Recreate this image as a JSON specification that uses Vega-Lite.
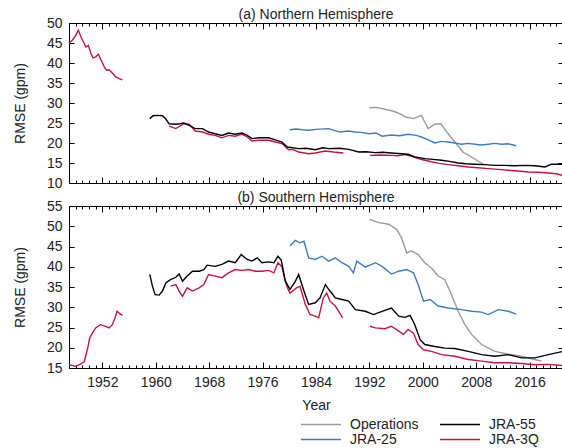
{
  "$schema": "https://vega.github.io/schema/vega-lite/v6.json",
  "padding": {"left": 12, "top": 7, "right": 0, "bottom": 0},
  "spacing": -1,
  "config": {
    "font": "Liberation Sans",
    "view": {"stroke": "#000", "strokeWidth": 1},
    "axis": {"domain": false, "grid": false, "labelFont": "Liberation Sans", "labelFontSize": 14, "labelColor": "#222", "titleFont": "Liberation Sans", "titleFontSize": 14, "titleFontWeight": "normal", "titleColor": "#222", "tickColor": "#000", "tickWidth": 1},
    "title": {"font": "Liberation Sans", "fontSize": 14, "fontWeight": "normal", "color": "#222", "offset": -6},
    "concat": {"spacing": -1}
  },
  "datasets": {
    "nh": [
      {"series": "Operations", "seg": "o", "year": 1992.0, "rmse": 28.8},
      {"series": "Operations", "seg": "o", "year": 1993.0, "rmse": 28.9},
      {"series": "Operations", "seg": "o", "year": 1993.9, "rmse": 28.6},
      {"series": "Operations", "seg": "o", "year": 1995.0, "rmse": 28.2},
      {"series": "Operations", "seg": "o", "year": 1995.9, "rmse": 27.75},
      {"series": "Operations", "seg": "o", "year": 1996.7, "rmse": 27.2},
      {"series": "Operations", "seg": "o", "year": 1997.4, "rmse": 26.5},
      {"series": "Operations", "seg": "o", "year": 1998.6, "rmse": 26.1},
      {"series": "Operations", "seg": "o", "year": 1999.8, "rmse": 26.9},
      {"series": "Operations", "seg": "o", "year": 2000.3, "rmse": 25.2},
      {"series": "Operations", "seg": "o", "year": 2000.8, "rmse": 23.6},
      {"series": "Operations", "seg": "o", "year": 2001.8, "rmse": 24.7},
      {"series": "Operations", "seg": "o", "year": 2002.7, "rmse": 24.8},
      {"series": "Operations", "seg": "o", "year": 2003.8, "rmse": 22.3},
      {"series": "Operations", "seg": "o", "year": 2004.8, "rmse": 20.25},
      {"series": "Operations", "seg": "o", "year": 2006.0, "rmse": 17.75},
      {"series": "Operations", "seg": "o", "year": 2007.3, "rmse": 16.5},
      {"series": "Operations", "seg": "o", "year": 2008.5, "rmse": 15.25},
      {"series": "Operations", "seg": "o", "year": 2009.0, "rmse": 14.8},

      {"series": "JRA-25", "seg": "b", "year": 1980.1, "rmse": 23.3},
      {"series": "JRA-25", "seg": "b", "year": 1981.0, "rmse": 23.5},
      {"series": "JRA-25", "seg": "b", "year": 1982.0, "rmse": 23.3},
      {"series": "JRA-25", "seg": "b", "year": 1982.9, "rmse": 23.2},
      {"series": "JRA-25", "seg": "b", "year": 1984.0, "rmse": 23.4},
      {"series": "JRA-25", "seg": "b", "year": 1985.9, "rmse": 23.6},
      {"series": "JRA-25", "seg": "b", "year": 1986.8, "rmse": 23.1},
      {"series": "JRA-25", "seg": "b", "year": 1987.6, "rmse": 22.75},
      {"series": "JRA-25", "seg": "b", "year": 1988.8, "rmse": 23.0},
      {"series": "JRA-25", "seg": "b", "year": 1989.9, "rmse": 22.75},
      {"series": "JRA-25", "seg": "b", "year": 1991.0, "rmse": 22.6},
      {"series": "JRA-25", "seg": "b", "year": 1991.9, "rmse": 22.3},
      {"series": "JRA-25", "seg": "b", "year": 1993.0, "rmse": 22.5},
      {"series": "JRA-25", "seg": "b", "year": 1993.9, "rmse": 21.7},
      {"series": "JRA-25", "seg": "b", "year": 1995.3, "rmse": 22.0},
      {"series": "JRA-25", "seg": "b", "year": 1996.5, "rmse": 21.8},
      {"series": "JRA-25", "seg": "b", "year": 1997.8, "rmse": 22.2},
      {"series": "JRA-25", "seg": "b", "year": 1999.0, "rmse": 21.9},
      {"series": "JRA-25", "seg": "b", "year": 1999.8, "rmse": 21.5},
      {"series": "JRA-25", "seg": "b", "year": 2000.8, "rmse": 20.8},
      {"series": "JRA-25", "seg": "b", "year": 2001.8, "rmse": 20.0},
      {"series": "JRA-25", "seg": "b", "year": 2002.8, "rmse": 20.4},
      {"series": "JRA-25", "seg": "b", "year": 2003.8, "rmse": 20.25},
      {"series": "JRA-25", "seg": "b", "year": 2004.8, "rmse": 20.0},
      {"series": "JRA-25", "seg": "b", "year": 2005.8, "rmse": 19.7},
      {"series": "JRA-25", "seg": "b", "year": 2006.8, "rmse": 19.9},
      {"series": "JRA-25", "seg": "b", "year": 2007.8, "rmse": 19.7},
      {"series": "JRA-25", "seg": "b", "year": 2008.8, "rmse": 19.5},
      {"series": "JRA-25", "seg": "b", "year": 2009.8, "rmse": 19.7},
      {"series": "JRA-25", "seg": "b", "year": 2010.8, "rmse": 19.9},
      {"series": "JRA-25", "seg": "b", "year": 2011.8, "rmse": 19.7},
      {"series": "JRA-25", "seg": "b", "year": 2012.8, "rmse": 19.8},
      {"series": "JRA-25", "seg": "b", "year": 2014.0, "rmse": 19.3},

      {"series": "JRA-3Q", "seg": "a", "year": 1947.0, "rmse": 45.0},
      {"series": "JRA-3Q", "seg": "a", "year": 1947.5, "rmse": 45.7},
      {"series": "JRA-3Q", "seg": "a", "year": 1948.0, "rmse": 46.9},
      {"series": "JRA-3Q", "seg": "a", "year": 1948.4, "rmse": 48.2},
      {"series": "JRA-3Q", "seg": "a", "year": 1948.8, "rmse": 46.5},
      {"series": "JRA-3Q", "seg": "a", "year": 1949.3, "rmse": 44.8},
      {"series": "JRA-3Q", "seg": "a", "year": 1949.5, "rmse": 44.0},
      {"series": "JRA-3Q", "seg": "a", "year": 1949.9, "rmse": 44.4},
      {"series": "JRA-3Q", "seg": "a", "year": 1950.3, "rmse": 42.3},
      {"series": "JRA-3Q", "seg": "a", "year": 1950.6, "rmse": 41.3},
      {"series": "JRA-3Q", "seg": "a", "year": 1951.0, "rmse": 41.5},
      {"series": "JRA-3Q", "seg": "a", "year": 1951.4, "rmse": 42.2},
      {"series": "JRA-3Q", "seg": "a", "year": 1951.7, "rmse": 41.1},
      {"series": "JRA-3Q", "seg": "a", "year": 1952.3, "rmse": 39.0},
      {"series": "JRA-3Q", "seg": "a", "year": 1952.6, "rmse": 38.2},
      {"series": "JRA-3Q", "seg": "a", "year": 1953.0, "rmse": 38.3},
      {"series": "JRA-3Q", "seg": "a", "year": 1953.5, "rmse": 37.5},
      {"series": "JRA-3Q", "seg": "a", "year": 1954.0, "rmse": 36.5},
      {"series": "JRA-3Q", "seg": "a", "year": 1954.5, "rmse": 36.1},
      {"series": "JRA-3Q", "seg": "a", "year": 1955.0, "rmse": 35.8},

      {"series": "JRA-3Q", "seg": "b", "year": 1962.0, "rmse": 24.2},
      {"series": "JRA-3Q", "seg": "b", "year": 1963.0, "rmse": 23.6},
      {"series": "JRA-3Q", "seg": "b", "year": 1964.2, "rmse": 24.85},
      {"series": "JRA-3Q", "seg": "b", "year": 1965.0, "rmse": 24.7},
      {"series": "JRA-3Q", "seg": "b", "year": 1965.9, "rmse": 23.0},
      {"series": "JRA-3Q", "seg": "b", "year": 1967.0, "rmse": 22.75},
      {"series": "JRA-3Q", "seg": "b", "year": 1967.9, "rmse": 22.2},
      {"series": "JRA-3Q", "seg": "b", "year": 1968.9, "rmse": 21.9},
      {"series": "JRA-3Q", "seg": "b", "year": 1969.9, "rmse": 21.3},
      {"series": "JRA-3Q", "seg": "b", "year": 1970.9, "rmse": 21.9},
      {"series": "JRA-3Q", "seg": "b", "year": 1971.9, "rmse": 21.7},
      {"series": "JRA-3Q", "seg": "b", "year": 1972.9, "rmse": 22.2},
      {"series": "JRA-3Q", "seg": "b", "year": 1973.7, "rmse": 21.5},
      {"series": "JRA-3Q", "seg": "b", "year": 1974.4, "rmse": 20.5},
      {"series": "JRA-3Q", "seg": "b", "year": 1975.4, "rmse": 20.7},
      {"series": "JRA-3Q", "seg": "b", "year": 1976.9, "rmse": 20.7},
      {"series": "JRA-3Q", "seg": "b", "year": 1977.9, "rmse": 20.25},
      {"series": "JRA-3Q", "seg": "b", "year": 1978.9, "rmse": 19.85},
      {"series": "JRA-3Q", "seg": "b", "year": 1979.9, "rmse": 18.3},
      {"series": "JRA-3Q", "seg": "b", "year": 1980.5, "rmse": 18.4},
      {"series": "JRA-3Q", "seg": "b", "year": 1981.4, "rmse": 17.75},
      {"series": "JRA-3Q", "seg": "b", "year": 1982.9, "rmse": 17.3},
      {"series": "JRA-3Q", "seg": "b", "year": 1983.9, "rmse": 17.5},
      {"series": "JRA-3Q", "seg": "b", "year": 1985.4, "rmse": 18.0},
      {"series": "JRA-3Q", "seg": "b", "year": 1986.6, "rmse": 17.75},
      {"series": "JRA-3Q", "seg": "b", "year": 1988.1, "rmse": 17.5},

      {"series": "JRA-3Q", "seg": "c", "year": 1992.1, "rmse": 16.9},
      {"series": "JRA-3Q", "seg": "c", "year": 1993.5, "rmse": 17.0},
      {"series": "JRA-3Q", "seg": "c", "year": 1995.3, "rmse": 16.9},
      {"series": "JRA-3Q", "seg": "c", "year": 1996.3, "rmse": 16.8},
      {"series": "JRA-3Q", "seg": "c", "year": 1997.3, "rmse": 17.1},
      {"series": "JRA-3Q", "seg": "c", "year": 1998.3, "rmse": 16.7},
      {"series": "JRA-3Q", "seg": "c", "year": 1999.3, "rmse": 16.1},
      {"series": "JRA-3Q", "seg": "c", "year": 2000.3, "rmse": 15.7},
      {"series": "JRA-3Q", "seg": "c", "year": 2001.3, "rmse": 15.3},
      {"series": "JRA-3Q", "seg": "c", "year": 2002.5, "rmse": 14.9},
      {"series": "JRA-3Q", "seg": "c", "year": 2003.8, "rmse": 14.6},
      {"series": "JRA-3Q", "seg": "c", "year": 2005.3, "rmse": 14.3},
      {"series": "JRA-3Q", "seg": "c", "year": 2006.8, "rmse": 14.0},
      {"series": "JRA-3Q", "seg": "c", "year": 2008.3, "rmse": 13.8},
      {"series": "JRA-3Q", "seg": "c", "year": 2009.8, "rmse": 13.6},
      {"series": "JRA-3Q", "seg": "c", "year": 2011.3, "rmse": 13.4},
      {"series": "JRA-3Q", "seg": "c", "year": 2012.8, "rmse": 13.2},
      {"series": "JRA-3Q", "seg": "c", "year": 2014.3, "rmse": 13.0},
      {"series": "JRA-3Q", "seg": "c", "year": 2015.8, "rmse": 12.75},
      {"series": "JRA-3Q", "seg": "c", "year": 2017.3, "rmse": 12.7},
      {"series": "JRA-3Q", "seg": "c", "year": 2018.8, "rmse": 12.5},
      {"series": "JRA-3Q", "seg": "c", "year": 2020.0, "rmse": 12.3},
      {"series": "JRA-3Q", "seg": "c", "year": 2021.0, "rmse": 11.9},

      {"series": "JRA-55", "seg": "k", "year": 1959.1, "rmse": 26.1},
      {"series": "JRA-55", "seg": "k", "year": 1959.6, "rmse": 26.8},
      {"series": "JRA-55", "seg": "k", "year": 1960.2, "rmse": 26.9},
      {"series": "JRA-55", "seg": "k", "year": 1961.0, "rmse": 26.8},
      {"series": "JRA-55", "seg": "k", "year": 1961.5, "rmse": 26.0},
      {"series": "JRA-55", "seg": "k", "year": 1962.0, "rmse": 24.8},
      {"series": "JRA-55", "seg": "k", "year": 1963.0, "rmse": 24.7},
      {"series": "JRA-55", "seg": "k", "year": 1963.6, "rmse": 24.8},
      {"series": "JRA-55", "seg": "k", "year": 1964.2, "rmse": 25.0},
      {"series": "JRA-55", "seg": "k", "year": 1965.0, "rmse": 24.4},
      {"series": "JRA-55", "seg": "k", "year": 1965.9, "rmse": 23.6},
      {"series": "JRA-55", "seg": "k", "year": 1967.0, "rmse": 23.6},
      {"series": "JRA-55", "seg": "k", "year": 1967.9, "rmse": 22.75},
      {"series": "JRA-55", "seg": "k", "year": 1968.9, "rmse": 22.3},
      {"series": "JRA-55", "seg": "k", "year": 1969.9, "rmse": 21.9},
      {"series": "JRA-55", "seg": "k", "year": 1970.9, "rmse": 22.5},
      {"series": "JRA-55", "seg": "k", "year": 1971.9, "rmse": 22.2},
      {"series": "JRA-55", "seg": "k", "year": 1972.9, "rmse": 22.5},
      {"series": "JRA-55", "seg": "k", "year": 1973.7, "rmse": 21.9},
      {"series": "JRA-55", "seg": "k", "year": 1974.4, "rmse": 21.1},
      {"series": "JRA-55", "seg": "k", "year": 1975.4, "rmse": 21.3},
      {"series": "JRA-55", "seg": "k", "year": 1976.9, "rmse": 21.3},
      {"series": "JRA-55", "seg": "k", "year": 1977.9, "rmse": 20.8},
      {"series": "JRA-55", "seg": "k", "year": 1978.9, "rmse": 20.2},
      {"series": "JRA-55", "seg": "k", "year": 1979.7, "rmse": 19.0},
      {"series": "JRA-55", "seg": "k", "year": 1981.4, "rmse": 18.6},
      {"series": "JRA-55", "seg": "k", "year": 1982.5, "rmse": 18.7},
      {"series": "JRA-55", "seg": "k", "year": 1983.9, "rmse": 18.3},
      {"series": "JRA-55", "seg": "k", "year": 1985.0, "rmse": 18.8},
      {"series": "JRA-55", "seg": "k", "year": 1985.9, "rmse": 18.6},
      {"series": "JRA-55", "seg": "k", "year": 1987.5, "rmse": 18.7},
      {"series": "JRA-55", "seg": "k", "year": 1988.9, "rmse": 18.4},
      {"series": "JRA-55", "seg": "k", "year": 1990.4, "rmse": 17.75},
      {"series": "JRA-55", "seg": "k", "year": 1991.5, "rmse": 17.8},
      {"series": "JRA-55", "seg": "k", "year": 1992.9, "rmse": 17.6},
      {"series": "JRA-55", "seg": "k", "year": 1994.0, "rmse": 17.7},
      {"series": "JRA-55", "seg": "k", "year": 1995.3, "rmse": 17.5},
      {"series": "JRA-55", "seg": "k", "year": 1996.8, "rmse": 17.3},
      {"series": "JRA-55", "seg": "k", "year": 1997.8, "rmse": 17.2},
      {"series": "JRA-55", "seg": "k", "year": 1998.8, "rmse": 16.5},
      {"series": "JRA-55", "seg": "k", "year": 2000.3, "rmse": 16.1},
      {"series": "JRA-55", "seg": "k", "year": 2001.5, "rmse": 15.9},
      {"series": "JRA-55", "seg": "k", "year": 2002.8, "rmse": 15.7},
      {"series": "JRA-55", "seg": "k", "year": 2004.0, "rmse": 15.4},
      {"series": "JRA-55", "seg": "k", "year": 2005.3, "rmse": 15.0},
      {"series": "JRA-55", "seg": "k", "year": 2006.5, "rmse": 14.8},
      {"series": "JRA-55", "seg": "k", "year": 2007.8, "rmse": 14.7},
      {"series": "JRA-55", "seg": "k", "year": 2009.3, "rmse": 14.6},
      {"series": "JRA-55", "seg": "k", "year": 2010.8, "rmse": 14.4},
      {"series": "JRA-55", "seg": "k", "year": 2012.3, "rmse": 14.4},
      {"series": "JRA-55", "seg": "k", "year": 2013.8, "rmse": 14.3},
      {"series": "JRA-55", "seg": "k", "year": 2015.3, "rmse": 14.4},
      {"series": "JRA-55", "seg": "k", "year": 2016.8, "rmse": 14.3},
      {"series": "JRA-55", "seg": "k", "year": 2018.3, "rmse": 14.0},
      {"series": "JRA-55", "seg": "k", "year": 2019.3, "rmse": 14.7},
      {"series": "JRA-55", "seg": "k", "year": 2021.0, "rmse": 14.7}
    ],
    "sh": [
      {"series": "Operations", "seg": "o", "year": 1992.0, "rmse": 51.7},
      {"series": "Operations", "seg": "o", "year": 1993.4, "rmse": 50.9},
      {"series": "Operations", "seg": "o", "year": 1994.9, "rmse": 50.5},
      {"series": "Operations", "seg": "o", "year": 1996.1, "rmse": 49.2},
      {"series": "Operations", "seg": "o", "year": 1996.8, "rmse": 47.2},
      {"series": "Operations", "seg": "o", "year": 1997.6, "rmse": 43.4},
      {"series": "Operations", "seg": "o", "year": 1998.3, "rmse": 43.9},
      {"series": "Operations", "seg": "o", "year": 1999.3, "rmse": 43.0},
      {"series": "Operations", "seg": "o", "year": 2000.3, "rmse": 41.0},
      {"series": "Operations", "seg": "o", "year": 2001.3, "rmse": 39.7},
      {"series": "Operations", "seg": "o", "year": 2002.3, "rmse": 37.7},
      {"series": "Operations", "seg": "o", "year": 2003.3, "rmse": 36.8},
      {"series": "Operations", "seg": "o", "year": 2004.3, "rmse": 33.1},
      {"series": "Operations", "seg": "o", "year": 2005.3, "rmse": 29.0},
      {"series": "Operations", "seg": "o", "year": 2006.3, "rmse": 25.7},
      {"series": "Operations", "seg": "o", "year": 2007.3, "rmse": 23.3},
      {"series": "Operations", "seg": "o", "year": 2008.8, "rmse": 20.8},
      {"series": "Operations", "seg": "o", "year": 2010.8, "rmse": 19.1},
      {"series": "Operations", "seg": "o", "year": 2012.8, "rmse": 18.4},
      {"series": "Operations", "seg": "o", "year": 2014.8, "rmse": 17.9},
      {"series": "Operations", "seg": "o", "year": 2016.8, "rmse": 17.1},
      {"series": "Operations", "seg": "o", "year": 2017.8, "rmse": 16.7},

      {"series": "JRA-25", "seg": "b", "year": 1980.1, "rmse": 45.1},
      {"series": "JRA-25", "seg": "b", "year": 1980.9, "rmse": 46.5},
      {"series": "JRA-25", "seg": "b", "year": 1981.6, "rmse": 45.9},
      {"series": "JRA-25", "seg": "b", "year": 1982.2, "rmse": 46.3},
      {"series": "JRA-25", "seg": "b", "year": 1982.9, "rmse": 42.2},
      {"series": "JRA-25", "seg": "b", "year": 1983.9, "rmse": 41.8},
      {"series": "JRA-25", "seg": "b", "year": 1984.9, "rmse": 42.6},
      {"series": "JRA-25", "seg": "b", "year": 1985.9, "rmse": 41.4},
      {"series": "JRA-25", "seg": "b", "year": 1986.9, "rmse": 42.2},
      {"series": "JRA-25", "seg": "b", "year": 1987.9, "rmse": 41.0},
      {"series": "JRA-25", "seg": "b", "year": 1988.9, "rmse": 40.1},
      {"series": "JRA-25", "seg": "b", "year": 1989.6, "rmse": 38.5},
      {"series": "JRA-25", "seg": "b", "year": 1990.1, "rmse": 41.4},
      {"series": "JRA-25", "seg": "b", "year": 1991.4, "rmse": 39.9},
      {"series": "JRA-25", "seg": "b", "year": 1992.9, "rmse": 41.0},
      {"series": "JRA-25", "seg": "b", "year": 1993.9, "rmse": 40.1},
      {"series": "JRA-25", "seg": "b", "year": 1995.3, "rmse": 38.2},
      {"series": "JRA-25", "seg": "b", "year": 1996.4, "rmse": 38.9},
      {"series": "JRA-25", "seg": "b", "year": 1997.6, "rmse": 39.3},
      {"series": "JRA-25", "seg": "b", "year": 1998.6, "rmse": 38.5},
      {"series": "JRA-25", "seg": "b", "year": 1999.3, "rmse": 35.6},
      {"series": "JRA-25", "seg": "b", "year": 2000.1, "rmse": 31.5},
      {"series": "JRA-25", "seg": "b", "year": 2001.1, "rmse": 31.9},
      {"series": "JRA-25", "seg": "b", "year": 2002.3, "rmse": 30.3},
      {"series": "JRA-25", "seg": "b", "year": 2003.8, "rmse": 29.8},
      {"series": "JRA-25", "seg": "b", "year": 2005.8, "rmse": 29.4},
      {"series": "JRA-25", "seg": "b", "year": 2007.3, "rmse": 29.0},
      {"series": "JRA-25", "seg": "b", "year": 2008.8, "rmse": 28.8},
      {"series": "JRA-25", "seg": "b", "year": 2009.8, "rmse": 28.2},
      {"series": "JRA-25", "seg": "b", "year": 2011.3, "rmse": 29.4},
      {"series": "JRA-25", "seg": "b", "year": 2012.8, "rmse": 29.0},
      {"series": "JRA-25", "seg": "b", "year": 2014.0, "rmse": 28.3},

      {"series": "JRA-3Q", "seg": "a", "year": 1947.0, "rmse": 15.8},
      {"series": "JRA-3Q", "seg": "a", "year": 1948.0, "rmse": 15.4},
      {"series": "JRA-3Q", "seg": "a", "year": 1948.8, "rmse": 16.0},
      {"series": "JRA-3Q", "seg": "a", "year": 1949.3, "rmse": 16.6},
      {"series": "JRA-3Q", "seg": "a", "year": 1949.8, "rmse": 19.9},
      {"series": "JRA-3Q", "seg": "a", "year": 1950.1, "rmse": 22.4},
      {"series": "JRA-3Q", "seg": "a", "year": 1950.5, "rmse": 23.6},
      {"series": "JRA-3Q", "seg": "a", "year": 1951.0, "rmse": 24.9},
      {"series": "JRA-3Q", "seg": "a", "year": 1951.7, "rmse": 25.7},
      {"series": "JRA-3Q", "seg": "a", "year": 1952.5, "rmse": 25.3},
      {"series": "JRA-3Q", "seg": "a", "year": 1953.0, "rmse": 24.9},
      {"series": "JRA-3Q", "seg": "a", "year": 1953.5, "rmse": 25.7},
      {"series": "JRA-3Q", "seg": "a", "year": 1953.9, "rmse": 27.4},
      {"series": "JRA-3Q", "seg": "a", "year": 1954.2, "rmse": 29.0},
      {"series": "JRA-3Q", "seg": "a", "year": 1954.7, "rmse": 28.3},
      {"series": "JRA-3Q", "seg": "a", "year": 1955.0, "rmse": 28.0},

      {"series": "JRA-3Q", "seg": "b", "year": 1962.2, "rmse": 35.2},
      {"series": "JRA-3Q", "seg": "b", "year": 1963.0, "rmse": 35.6},
      {"series": "JRA-3Q", "seg": "b", "year": 1963.5, "rmse": 34.0},
      {"series": "JRA-3Q", "seg": "b", "year": 1964.0, "rmse": 32.7},
      {"series": "JRA-3Q", "seg": "b", "year": 1964.7, "rmse": 34.8},
      {"series": "JRA-3Q", "seg": "b", "year": 1965.5, "rmse": 34.0},
      {"series": "JRA-3Q", "seg": "b", "year": 1966.5, "rmse": 34.8},
      {"series": "JRA-3Q", "seg": "b", "year": 1967.2, "rmse": 35.6},
      {"series": "JRA-3Q", "seg": "b", "year": 1967.9, "rmse": 38.1},
      {"series": "JRA-3Q", "seg": "b", "year": 1968.9, "rmse": 37.7},
      {"series": "JRA-3Q", "seg": "b", "year": 1969.9, "rmse": 37.3},
      {"series": "JRA-3Q", "seg": "b", "year": 1970.9, "rmse": 38.5},
      {"series": "JRA-3Q", "seg": "b", "year": 1971.9, "rmse": 39.3},
      {"series": "JRA-3Q", "seg": "b", "year": 1972.9, "rmse": 39.1},
      {"series": "JRA-3Q", "seg": "b", "year": 1973.9, "rmse": 39.3},
      {"series": "JRA-3Q", "seg": "b", "year": 1974.9, "rmse": 38.9},
      {"series": "JRA-3Q", "seg": "b", "year": 1975.9, "rmse": 38.9},
      {"series": "JRA-3Q", "seg": "b", "year": 1976.9, "rmse": 39.1},
      {"series": "JRA-3Q", "seg": "b", "year": 1977.7, "rmse": 38.5},
      {"series": "JRA-3Q", "seg": "b", "year": 1978.3, "rmse": 41.0},
      {"series": "JRA-3Q", "seg": "b", "year": 1978.9, "rmse": 40.0},
      {"series": "JRA-3Q", "seg": "b", "year": 1979.4, "rmse": 36.4},
      {"series": "JRA-3Q", "seg": "b", "year": 1979.8, "rmse": 34.5},
      {"series": "JRA-3Q", "seg": "b", "year": 1980.1, "rmse": 33.5},
      {"series": "JRA-3Q", "seg": "b", "year": 1981.1, "rmse": 34.8},
      {"series": "JRA-3Q", "seg": "b", "year": 1981.6, "rmse": 35.2},
      {"series": "JRA-3Q", "seg": "b", "year": 1982.4, "rmse": 30.7},
      {"series": "JRA-3Q", "seg": "b", "year": 1983.1, "rmse": 28.2},
      {"series": "JRA-3Q", "seg": "b", "year": 1983.9, "rmse": 27.8},
      {"series": "JRA-3Q", "seg": "b", "year": 1984.4, "rmse": 27.4},
      {"series": "JRA-3Q", "seg": "b", "year": 1985.1, "rmse": 32.3},
      {"series": "JRA-3Q", "seg": "b", "year": 1985.6, "rmse": 33.5},
      {"series": "JRA-3Q", "seg": "b", "year": 1986.1, "rmse": 31.5},
      {"series": "JRA-3Q", "seg": "b", "year": 1986.9, "rmse": 30.3},
      {"series": "JRA-3Q", "seg": "b", "year": 1987.4, "rmse": 29.0},
      {"series": "JRA-3Q", "seg": "b", "year": 1988.0, "rmse": 27.4},

      {"series": "JRA-3Q", "seg": "c", "year": 1992.1, "rmse": 25.3},
      {"series": "JRA-3Q", "seg": "c", "year": 1992.9, "rmse": 24.9},
      {"series": "JRA-3Q", "seg": "c", "year": 1994.3, "rmse": 24.7},
      {"series": "JRA-3Q", "seg": "c", "year": 1995.3, "rmse": 25.3},
      {"series": "JRA-3Q", "seg": "c", "year": 1996.4, "rmse": 24.1},
      {"series": "JRA-3Q", "seg": "c", "year": 1997.1, "rmse": 23.3},
      {"series": "JRA-3Q", "seg": "c", "year": 1997.8, "rmse": 24.5},
      {"series": "JRA-3Q", "seg": "c", "year": 1998.6, "rmse": 23.6},
      {"series": "JRA-3Q", "seg": "c", "year": 1999.3, "rmse": 20.8},
      {"series": "JRA-3Q", "seg": "c", "year": 2000.1, "rmse": 19.5},
      {"series": "JRA-3Q", "seg": "c", "year": 2001.3, "rmse": 19.1},
      {"series": "JRA-3Q", "seg": "c", "year": 2002.8, "rmse": 18.3},
      {"series": "JRA-3Q", "seg": "c", "year": 2004.8, "rmse": 17.9},
      {"series": "JRA-3Q", "seg": "c", "year": 2006.8, "rmse": 17.1},
      {"series": "JRA-3Q", "seg": "c", "year": 2008.8, "rmse": 16.7},
      {"series": "JRA-3Q", "seg": "c", "year": 2010.8, "rmse": 16.3},
      {"series": "JRA-3Q", "seg": "c", "year": 2012.8, "rmse": 16.3},
      {"series": "JRA-3Q", "seg": "c", "year": 2014.8, "rmse": 16.1},
      {"series": "JRA-3Q", "seg": "c", "year": 2016.8, "rmse": 15.8},
      {"series": "JRA-3Q", "seg": "c", "year": 2018.8, "rmse": 15.9},
      {"series": "JRA-3Q", "seg": "c", "year": 2021.0, "rmse": 15.6},

      {"series": "JRA-55", "seg": "k", "year": 1959.1, "rmse": 38.1},
      {"series": "JRA-55", "seg": "k", "year": 1959.5, "rmse": 35.2},
      {"series": "JRA-55", "seg": "k", "year": 1959.9, "rmse": 33.1},
      {"series": "JRA-55", "seg": "k", "year": 1960.5, "rmse": 33.0},
      {"series": "JRA-55", "seg": "k", "year": 1961.0, "rmse": 34.0},
      {"series": "JRA-55", "seg": "k", "year": 1961.5, "rmse": 36.0},
      {"series": "JRA-55", "seg": "k", "year": 1962.2, "rmse": 36.8},
      {"series": "JRA-55", "seg": "k", "year": 1963.0, "rmse": 37.4},
      {"series": "JRA-55", "seg": "k", "year": 1963.5, "rmse": 38.2},
      {"series": "JRA-55", "seg": "k", "year": 1964.0, "rmse": 36.4},
      {"series": "JRA-55", "seg": "k", "year": 1964.7, "rmse": 37.7},
      {"series": "JRA-55", "seg": "k", "year": 1965.5, "rmse": 38.9},
      {"series": "JRA-55", "seg": "k", "year": 1966.5, "rmse": 38.9},
      {"series": "JRA-55", "seg": "k", "year": 1967.2, "rmse": 39.3},
      {"series": "JRA-55", "seg": "k", "year": 1967.7, "rmse": 40.4},
      {"series": "JRA-55", "seg": "k", "year": 1968.9, "rmse": 40.1},
      {"series": "JRA-55", "seg": "k", "year": 1969.9, "rmse": 40.6},
      {"series": "JRA-55", "seg": "k", "year": 1970.9, "rmse": 41.4},
      {"series": "JRA-55", "seg": "k", "year": 1971.9, "rmse": 41.0},
      {"series": "JRA-55", "seg": "k", "year": 1972.8, "rmse": 43.0},
      {"series": "JRA-55", "seg": "k", "year": 1973.7, "rmse": 41.8},
      {"series": "JRA-55", "seg": "k", "year": 1974.4, "rmse": 41.4},
      {"series": "JRA-55", "seg": "k", "year": 1975.2, "rmse": 42.2},
      {"series": "JRA-55", "seg": "k", "year": 1975.9, "rmse": 41.0},
      {"series": "JRA-55", "seg": "k", "year": 1976.9, "rmse": 41.2},
      {"series": "JRA-55", "seg": "k", "year": 1977.7, "rmse": 41.0},
      {"series": "JRA-55", "seg": "k", "year": 1978.3, "rmse": 42.6},
      {"series": "JRA-55", "seg": "k", "year": 1978.8, "rmse": 41.6},
      {"series": "JRA-55", "seg": "k", "year": 1979.4, "rmse": 36.5},
      {"series": "JRA-55", "seg": "k", "year": 1980.1, "rmse": 34.4},
      {"series": "JRA-55", "seg": "k", "year": 1980.9, "rmse": 36.4},
      {"series": "JRA-55", "seg": "k", "year": 1981.4, "rmse": 38.1},
      {"series": "JRA-55", "seg": "k", "year": 1982.2, "rmse": 34.0},
      {"series": "JRA-55", "seg": "k", "year": 1982.9, "rmse": 30.7},
      {"series": "JRA-55", "seg": "k", "year": 1983.9, "rmse": 31.1},
      {"series": "JRA-55", "seg": "k", "year": 1984.6, "rmse": 32.3},
      {"series": "JRA-55", "seg": "k", "year": 1985.4, "rmse": 35.6},
      {"series": "JRA-55", "seg": "k", "year": 1986.1, "rmse": 34.0},
      {"series": "JRA-55", "seg": "k", "year": 1986.9, "rmse": 32.3},
      {"series": "JRA-55", "seg": "k", "year": 1987.9, "rmse": 31.9},
      {"series": "JRA-55", "seg": "k", "year": 1988.9, "rmse": 31.5},
      {"series": "JRA-55", "seg": "k", "year": 1989.9, "rmse": 29.4},
      {"series": "JRA-55", "seg": "k", "year": 1991.4, "rmse": 29.0},
      {"series": "JRA-55", "seg": "k", "year": 1992.6, "rmse": 28.2},
      {"series": "JRA-55", "seg": "k", "year": 1993.9, "rmse": 29.0},
      {"series": "JRA-55", "seg": "k", "year": 1995.3, "rmse": 29.8},
      {"series": "JRA-55", "seg": "k", "year": 1996.4, "rmse": 27.8},
      {"series": "JRA-55", "seg": "k", "year": 1997.3, "rmse": 27.5},
      {"series": "JRA-55", "seg": "k", "year": 1998.1, "rmse": 28.0},
      {"series": "JRA-55", "seg": "k", "year": 1998.8, "rmse": 25.7},
      {"series": "JRA-55", "seg": "k", "year": 1999.6, "rmse": 22.0},
      {"series": "JRA-55", "seg": "k", "year": 2000.3, "rmse": 20.8},
      {"series": "JRA-55", "seg": "k", "year": 2001.8, "rmse": 20.3},
      {"series": "JRA-55", "seg": "k", "year": 2003.3, "rmse": 19.9},
      {"series": "JRA-55", "seg": "k", "year": 2004.8, "rmse": 19.8},
      {"series": "JRA-55", "seg": "k", "year": 2006.8, "rmse": 19.1},
      {"series": "JRA-55", "seg": "k", "year": 2008.8, "rmse": 18.3},
      {"series": "JRA-55", "seg": "k", "year": 2010.8, "rmse": 17.9},
      {"series": "JRA-55", "seg": "k", "year": 2012.8, "rmse": 18.3},
      {"series": "JRA-55", "seg": "k", "year": 2014.8, "rmse": 17.5},
      {"series": "JRA-55", "seg": "k", "year": 2016.8, "rmse": 17.5},
      {"series": "JRA-55", "seg": "k", "year": 2018.8, "rmse": 18.3},
      {"series": "JRA-55", "seg": "k", "year": 2021.0, "rmse": 19.1}
    ]
  },
  "vconcat": [
    {
      "title": "(a) Northern Hemisphere",
      "width": 494,
      "height": 160,
      "data": {"name": "nh"},
      "resolve": {"axis": {"x": "independent", "y": "independent"}},
      "layer": [
        {
          "mark": {"type": "line", "strokeWidth": 1.4},
          "encoding": {
            "x": {"field": "year", "type": "quantitative", "scale": {"domain": [1947, 2021], "nice": false, "zero": false},
              "axis": {"orient": "bottom", "values": [1947,1948,1949,1950,1951,1952,1953,1954,1955,1956,1957,1958,1959,1960,1961,1962,1963,1964,1965,1966,1967,1968,1969,1970,1971,1972,1973,1974,1975,1976,1977,1978,1979,1980,1981,1982,1983,1984,1985,1986,1987,1988,1989,1990,1991,1992,1993,1994,1995,1996,1997,1998,1999,2000,2001,2002,2003,2004,2005,2006,2007,2008,2009,2010,2011,2012,2013,2014,2015,2016,2017,2018,2019,2020,2021], "labels": false, "title": null, "minExtent": 0, "maxExtent": 0, "tickSize": {"condition": {"test": "datum.value % 8 === 0", "value": -6}, "value": -3}}},
            "y": {"field": "rmse", "type": "quantitative", "scale": {"domain": [10, 50], "nice": false, "zero": false},
              "axis": {"orient": "left", "values": [10,15,20,25,30,35,40,45,50], "tickSize": -5, "labelPadding": 12, "labelFlush": false, "title": "RMSE (gpm)", "titlePadding": 19}},
            "color": {"field": "series", "type": "nominal",
              "scale": {"domain": ["Operations", "JRA-25", "JRA-55", "JRA-3Q"], "range": ["#9a9a9a", "#3d7cc0", "#000000", "#c8143c"]},
              "legend": {"orient": "none", "legendX": 231, "legendY": 394, "columns": 2, "direction": "vertical", "title": null, "symbolType": "stroke", "symbolSize": 1600, "symbolStrokeWidth": 1.5, "labelFontSize": 14, "labelColor": "#222", "columnPadding": 20, "rowPadding": 0, "clipHeight": 15, "labelOffset": 8}},
            "detail": {"field": "seg"}
          }
        },
        {
          "mark": {"type": "line", "opacity": 0},
          "encoding": {
            "x": {"field": "year", "type": "quantitative",
              "axis": {"orient": "top", "values": [1947,1948,1949,1950,1951,1952,1953,1954,1955,1956,1957,1958,1959,1960,1961,1962,1963,1964,1965,1966,1967,1968,1969,1970,1971,1972,1973,1974,1975,1976,1977,1978,1979,1980,1981,1982,1983,1984,1985,1986,1987,1988,1989,1990,1991,1992,1993,1994,1995,1996,1997,1998,1999,2000,2001,2002,2003,2004,2005,2006,2007,2008,2009,2010,2011,2012,2013,2014,2015,2016,2017,2018,2019,2020,2021], "labels": false, "title": null, "minExtent": 0, "maxExtent": 0, "tickSize": {"condition": {"test": "datum.value % 8 === 0", "value": -6}, "value": -3}}},
            "y": {"field": "rmse", "type": "quantitative",
              "axis": {"orient": "right", "values": [10,15,20,25,30,35,40,45,50], "tickSize": -5, "labels": false, "title": null, "minExtent": 0, "maxExtent": 0}},
            "detail": {"field": "seg"}
          }
        }
      ]
    },
    {
      "title": "(b) Southern Hemisphere",
      "width": 494,
      "height": 162,
      "data": {"name": "sh"},
      "resolve": {"axis": {"x": "independent", "y": "independent"}},
      "layer": [
        {
          "mark": {"type": "line", "strokeWidth": 1.4},
          "encoding": {
            "x": {"field": "year", "type": "quantitative", "scale": {"domain": [1947, 2021], "nice": false, "zero": false},
              "axis": {"orient": "bottom", "values": [1947,1948,1949,1950,1951,1952,1953,1954,1955,1956,1957,1958,1959,1960,1961,1962,1963,1964,1965,1966,1967,1968,1969,1970,1971,1972,1973,1974,1975,1976,1977,1978,1979,1980,1981,1982,1983,1984,1985,1986,1987,1988,1989,1990,1991,1992,1993,1994,1995,1996,1997,1998,1999,2000,2001,2002,2003,2004,2005,2006,2007,2008,2009,2010,2011,2012,2013,2014,2015,2016,2017,2018,2019,2020,2021], "labelExpr": "datum.value % 8 === 0 ? datum.value : ''", "labelOverlap": false, "labelFlush": false, "labelPadding": 13, "title": "Year", "titlePadding": 6, "tickSize": {"condition": {"test": "datum.value % 8 === 0", "value": -6}, "value": -3}}},
            "y": {"field": "rmse", "type": "quantitative", "scale": {"domain": [15, 55], "nice": false, "zero": false},
              "axis": {"orient": "left", "values": [15,20,25,30,35,40,45,50,55], "tickSize": -5, "labelPadding": 12, "labelFlush": false, "title": "RMSE (gpm)", "titlePadding": 19}},
            "color": {"field": "series", "type": "nominal",
              "scale": {"domain": ["Operations", "JRA-25", "JRA-55", "JRA-3Q"], "range": ["#9a9a9a", "#3d7cc0", "#000000", "#c8143c"]},
              "legend": {"orient": "none", "legendX": 231, "legendY": 394, "columns": 2, "direction": "vertical", "title": null, "symbolType": "stroke", "symbolSize": 1600, "symbolStrokeWidth": 1.5, "labelFontSize": 14, "labelColor": "#222", "columnPadding": 20, "rowPadding": 0, "clipHeight": 15, "labelOffset": 8}},
            "detail": {"field": "seg"}
          }
        },
        {
          "mark": {"type": "line", "opacity": 0},
          "encoding": {
            "x": {"field": "year", "type": "quantitative",
              "axis": {"orient": "top", "values": [1947,1948,1949,1950,1951,1952,1953,1954,1955,1956,1957,1958,1959,1960,1961,1962,1963,1964,1965,1966,1967,1968,1969,1970,1971,1972,1973,1974,1975,1976,1977,1978,1979,1980,1981,1982,1983,1984,1985,1986,1987,1988,1989,1990,1991,1992,1993,1994,1995,1996,1997,1998,1999,2000,2001,2002,2003,2004,2005,2006,2007,2008,2009,2010,2011,2012,2013,2014,2015,2016,2017,2018,2019,2020,2021], "labels": false, "title": null, "minExtent": 0, "maxExtent": 0, "tickSize": {"condition": {"test": "datum.value % 8 === 0", "value": -6}, "value": -3}}},
            "y": {"field": "rmse", "type": "quantitative",
              "axis": {"orient": "right", "values": [15,20,25,30,35,40,45,50,55], "tickSize": -5, "labels": false, "title": null, "minExtent": 0, "maxExtent": 0}},
            "detail": {"field": "seg"}
          }
        }
      ]
    }
  ]
}
